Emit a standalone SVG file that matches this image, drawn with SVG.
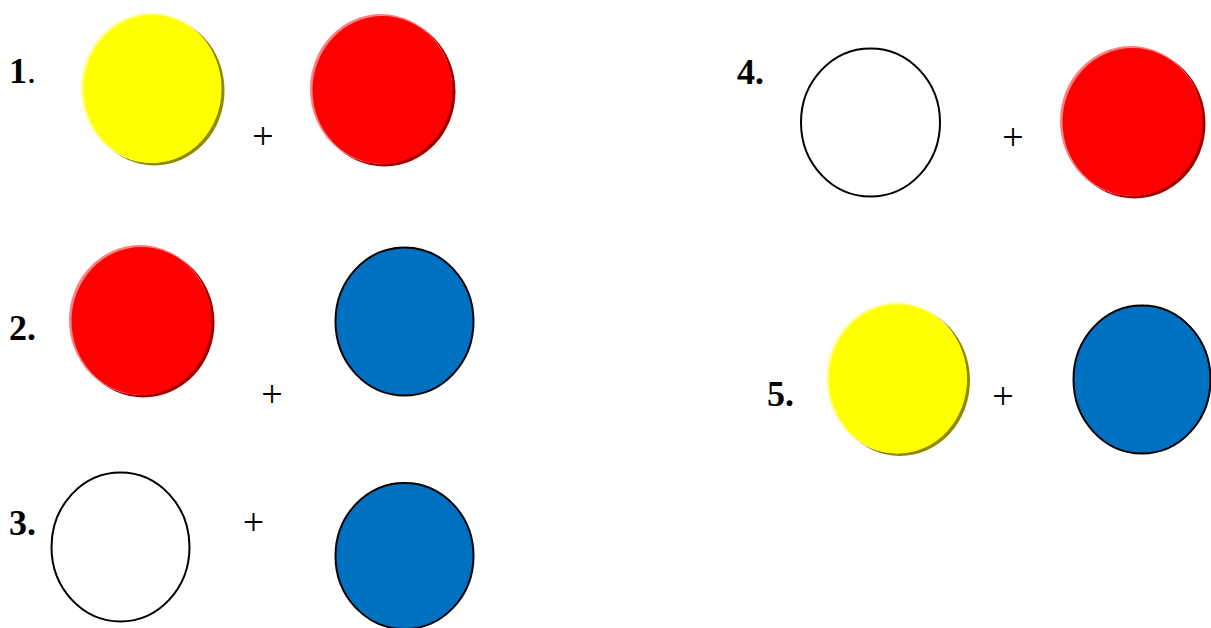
<svg xmlns="http://www.w3.org/2000/svg" width="1211" height="628" viewBox="0 0 1211 628">
<style>
.lbl{font-family:"Liberation Serif","Times New Roman",serif;font-size:36px;font-weight:bold;fill:#000}
.dot{font-weight:normal}
.plus{font-family:"Liberation Serif","Times New Roman",serif;font-size:38px;fill:#000;text-anchor:middle}
.y{fill:#ffff00}.yd{fill:#8f8a00}.yl{fill:#ffff8a}
.r{fill:#ff0000}.rd{fill:#a00000}.rl{fill:#ff8080}
.b{fill:#0070c0;stroke:#000;stroke-width:2}
.w{fill:#fff;stroke:#000;stroke-width:2}
</style>
<rect width="1211" height="628" fill="#fff"/>
<g id="row1">
<text class="lbl" x="9" y="83">1<tspan class="dot">.</tspan></text>
<g id="c1a"><ellipse class="yd" cx="154.5" cy="90.5" rx="70" ry="75"/><ellipse class="yl" cx="151" cy="88" rx="70" ry="75"/><ellipse class="y" cx="152.5" cy="89" rx="69" ry="74"/></g>
<text class="plus" x="263" y="149">+</text>
<g id="c1b"><ellipse class="rd" cx="384.5" cy="91.5" rx="71" ry="75"/><ellipse class="rl" cx="381" cy="89" rx="71" ry="75"/><ellipse class="r" cx="382.5" cy="90" rx="70" ry="74"/></g>
</g>
<g id="row2">
<text class="lbl" x="9" y="340">2.</text>
<g id="c2a"><ellipse class="rd" cx="143.5" cy="322.5" rx="71" ry="75"/><ellipse class="rl" cx="140" cy="320" rx="71" ry="75"/><ellipse class="r" cx="141.5" cy="321" rx="70" ry="74"/></g>
<text class="plus" x="272" y="407">+</text>
<g id="c2b"><ellipse class="b" cx="404.5" cy="321.5" rx="69" ry="74"/></g>
</g>
<g id="row3">
<text class="lbl" x="9" y="535">3.</text>
<g id="c3a"><ellipse class="w" cx="120.5" cy="547" rx="69" ry="74.5"/></g>
<text class="plus" x="253.5" y="535">+</text>
<g id="c3b"><ellipse class="b" cx="404.5" cy="556" rx="69" ry="73"/></g>
</g>
<g id="row4">
<text class="lbl" x="737" y="84">4.</text>
<g id="c4a"><ellipse class="w" cx="870.5" cy="122.5" rx="69.5" ry="74"/></g>
<text class="plus" x="1013" y="150">+</text>
<g id="c4b"><ellipse class="rd" cx="1134.5" cy="123.5" rx="71" ry="75"/><ellipse class="rl" cx="1131" cy="121" rx="71" ry="75"/><ellipse class="r" cx="1132.5" cy="122" rx="70" ry="74"/></g>
</g>
<g id="row5">
<text class="lbl" x="767" y="406">5.</text>
<g id="c5a"><ellipse class="yd" cx="900" cy="380.5" rx="70" ry="75.5"/><ellipse class="yl" cx="896.5" cy="378" rx="70" ry="75.5"/><ellipse class="y" cx="898" cy="379" rx="69" ry="74.5"/></g>
<text class="plus" x="1003" y="409">+</text>
<g id="c5b"><ellipse class="b" cx="1142" cy="379.5" rx="68.5" ry="74"/></g>
</g>
</svg>
